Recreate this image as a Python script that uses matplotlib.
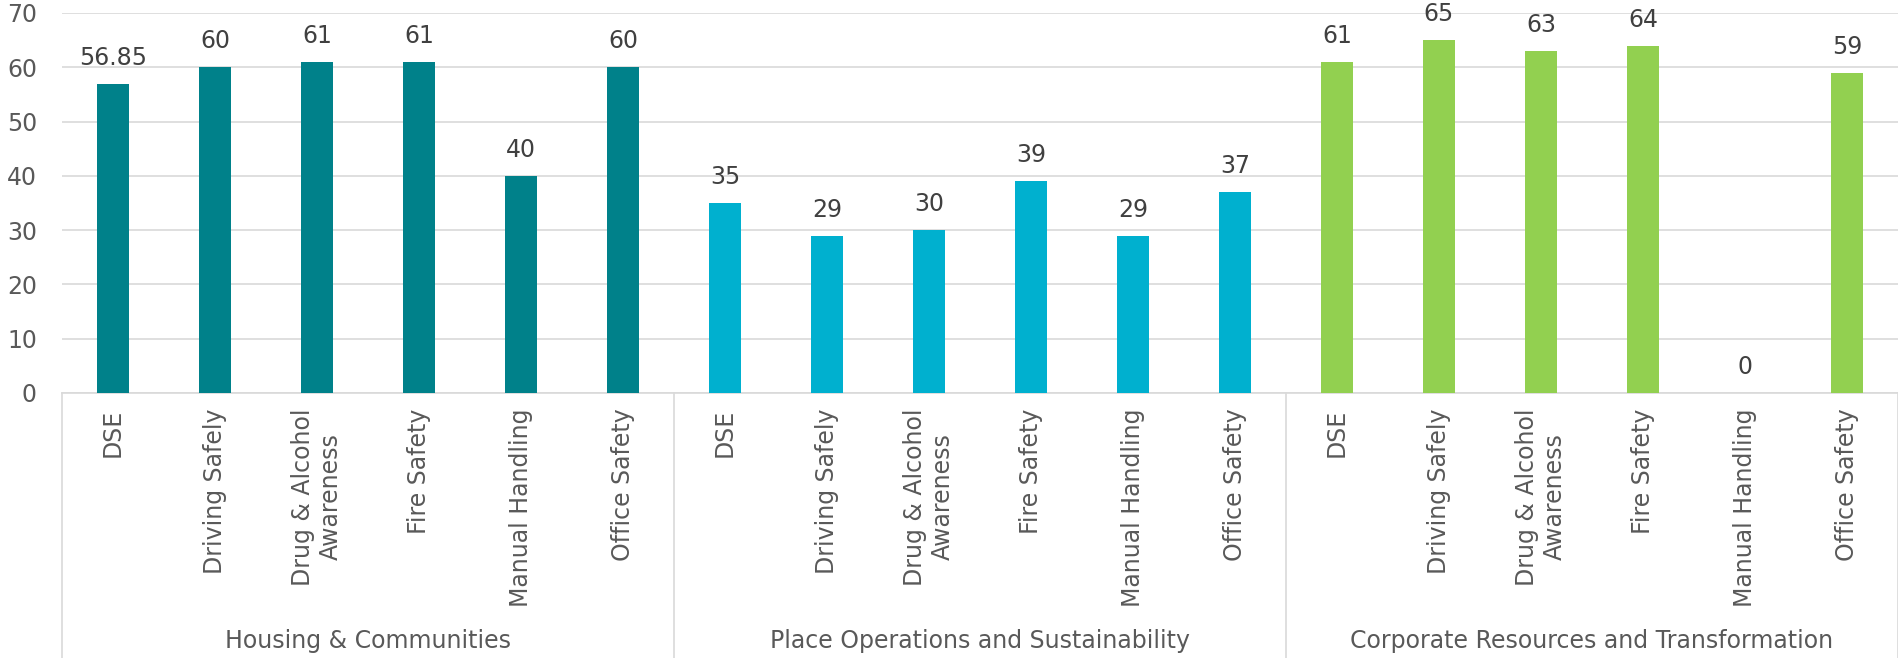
import matplotlib.pyplot as plt
import matplotlib.transforms as mtransforms
import numpy as np

groups = ["Housing & Communities", "Place Operations and Sustainability",
          "Corporate Resources and Transformation"]
courses = ["DSE", "Driving Safely", "Drug & Alcohol\nAwareness", "Fire Safety",
           "Manual Handling", "Office Safety"]
housing = [56.85, 60, 61, 61, 40, 60]
place_ops = [35, 29, 30, 39, 29, 37]
corporate = [61, 65, 63, 64, 0, 59]
group_colors = ["#00818A", "#00B0CF", "#92D050"]

values = housing + place_ops + corporate
labels = courses * len(groups)
colors = [c for c in group_colors for _ in courses]
x = np.arange(len(values))

fig = plt.figure(figsize=(18.99, 6.58), dpi=100)
ax = fig.add_axes([62 / 1899, 1 - 393 / 658, 1836 / 1899, 380 / 658])

bars = ax.bar(x, values, width=0.31, color=colors, zorder=3)
ax.bar_label(bars, labels=[f"{v:g}" for v in values], padding=10,
             fontsize=17, color="#404040")

ax.set_xlim(-0.5, len(values) - 0.5)
ax.set_ylim(0, 70)
ax.set_yticks(range(0, 71, 10))
ax.tick_params(axis="y", length=0, pad=18, labelsize=17, labelcolor="#595959")
ax.yaxis.grid(True, color="#d9d9d9", linewidth=1.2, zorder=0)
for s in ["top", "right", "left"]:
    ax.spines[s].set_visible(False)
ax.spines["bottom"].set_color("#d9d9d9")
ax.spines["bottom"].set_linewidth(1.2)

ax.set_xticks(x)
ax.set_xticklabels(labels, rotation=90, fontsize=17, color="#595959",
                   va="top", ha="center", multialignment="center")
ax.tick_params(axis="x", length=0, pad=11)

# group separators and group names below the category labels
trans = mtransforms.blended_transform_factory(ax.transData, fig.transFigure)
bottom_y = 1 - 393 / 658
n = len(courses)
for k in range(len(groups) + 1):
    xb = k * n - 0.5
    ax.plot([xb, xb], [bottom_y, 0], transform=trans, color="#d9d9d9",
            linewidth=1.2, clip_on=False)
for k, g in enumerate(groups):
    ax.text(k * n + (n - 1) / 2, 1 - 641 / 658, g, transform=trans,
            ha="center", va="center", fontsize=17, color="#595959")

fig.savefig("out.png", dpi=100)
